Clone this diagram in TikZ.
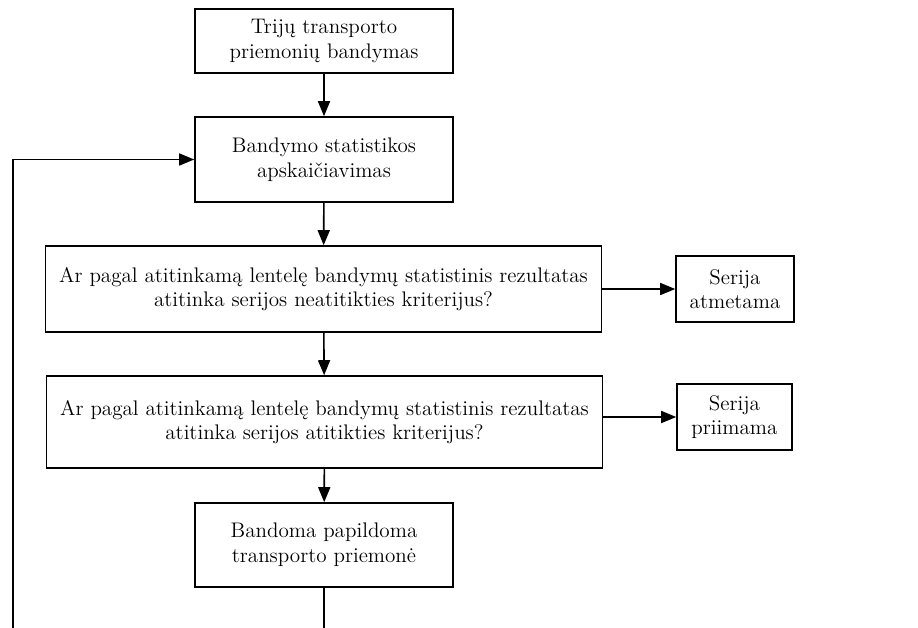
\documentclass[tikz,border=0pt]{standalone}
\usepackage{fontspec}
\usetikzlibrary{positioning,arrows.meta}

\begin{document}
\begin{tikzpicture}[
  font=\fontsize{12}{14}\selectfont,
  blk/.style={draw, line width=0.9pt, align=center, inner sep=2pt},
  mainb/.style={blk, minimum width=51.6mm},
  wideb/.style={blk, minimum width=111.2mm},
  outb/.style={blk, minimum width=23.6mm, minimum height=13.2mm},
  arr/.style={-{Triangle[length=3mm,width=2.4mm]}, line width=0.9pt},
]
\useasboundingbox (0,0) rectangle (18.36,-12.56);

\node[mainb, minimum height=12.8mm] (test) at (6.48,-0.82)
  {Trijų transporto\\ priemonių bandymas};
\node[mainb, minimum height=17mm] (stat) at (6.48,-3.19)
  {Bandymo statistikos\\ apskaičiavimas};
\node[wideb, minimum height=17.2mm] (neatit) at (6.47,-5.78)
  {Ar pagal atitinkamą lentelę bandymų statistinis rezultatas\\
   atitinka serijos neatitikties kriterijus?};
\node[wideb, minimum height=18.4mm] (atit) at (6.49,-8.44)
  {Ar pagal atitinkamą lentelę bandymų statistinis rezultatas\\
   atitinka serijos atitikties kriterijus?};
\node[mainb, minimum height=16.8mm] (papild) at (6.48,-10.9)
  {Bandoma papildoma\\ transporto priemonė};

\node[outb] (atmet) at (14.7,-5.78) {Serija\\ atmetama};
\node[outb, minimum width=23mm] (priim) at (14.69,-8.34) {Serija\\ priimama};

\draw[arr] (test) -- (stat);
\draw[arr] (stat) -- (neatit);
\draw[arr] (neatit) -- (atit);
\draw[arr] (atit) -- (papild);

\draw[arr] (neatit) -- (atmet);
\draw[arr] (atit.east|-priim) -- (priim);

% loop back, runs off the page
\coordinate (loopdown) at (papild.south|-0,-12.56);
\coordinate (loopleft) at (0.26,-12.56);
\draw[line width=0.9pt] (papild.south) -- (loopdown);
\draw[arr] (loopleft) |- (stat.west);
\end{tikzpicture}
\end{document}
